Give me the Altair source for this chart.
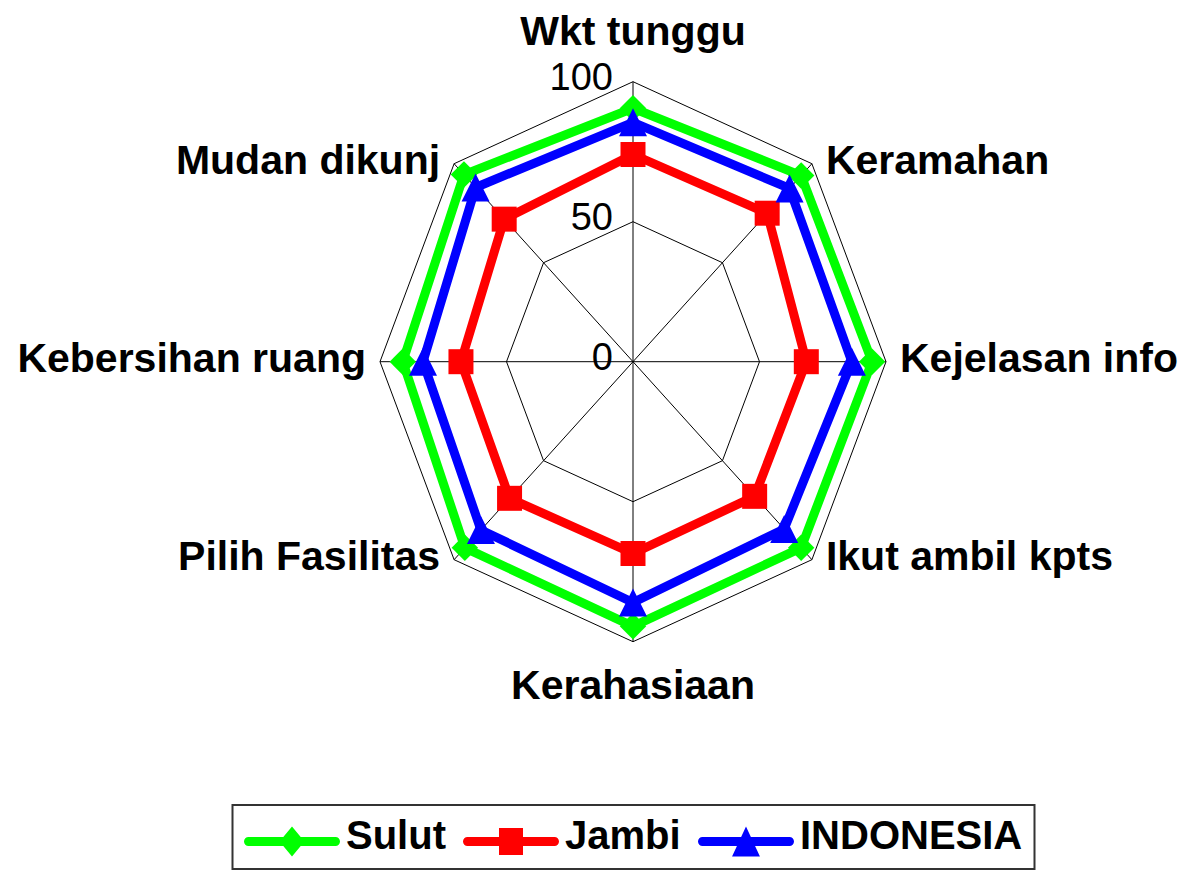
import altair as alt
import pandas as pd

# ---------------- data ----------------
categories = ["Wkt tunggu", "Keramahan", "Kejelasan info", "Ikut ambil kpts",
              "Kerahasiaan", "Pilih Fasilitas", "Kebersihan ruang", "Mudan dikunj"]
series_names = ["Sulut", "Jambi", "INDONESIA"]
sulut = [90.5, 94, 94.5, 94, 94.5, 94, 91, 94.5]
jambi = [74, 75, 68.5, 68, 68.5, 69, 68, 72]
indonesia = [85.5, 87.5, 86.5, 84.5, 86, 85, 83, 88]
series_colors = ["#00FF00", "#FF0000", "#0000FF"]
ring_levels = [50, 100]
tick_levels = [0, 50, 100]

# ---------------- layout constants ----------------
N = len(categories)
W, H = 1173, 865
CX, CY = 625, 353.7          # pixel position of the centre inside the view
KX, KY = 2.53, 2.8           # pixels per unit horizontally / vertically
FONT = "Liberation Sans"

x_scale = alt.Scale(domain=[-CX / KX, (W - CX) / KX], nice=False, zero=False)
y_scale = alt.Scale(domain=[-(H - CY) / KY, CY / KY], nice=False, zero=False)
color_scale = alt.Scale(domain=series_names, range=series_colors)


def polar(chart, r_field, xname="px", yname="py"):
    return (chart
            .transform_calculate(ang=f"datum.idx * 2 * PI / {N}")
            .transform_calculate(**{xname: f"datum.{r_field} * sin(datum.ang)"})
            .transform_calculate(**{yname: f"datum.{r_field} * cos(datum.ang)"}))


X = alt.X("px:Q", scale=x_scale, axis=None)
Y = alt.Y("py:Q", scale=y_scale, axis=None)

# ---------------- tables ----------------
series_rows = []
for name, vals in zip(series_names, [sulut, jambi, indonesia]):
    for i in range(N + 1):
        series_rows.append({"series": name, "idx": i, "value": vals[i % N]})
series_df = pd.DataFrame(series_rows)

grid_df = pd.DataFrame([{"ring": r, "idx": i} for r in ring_levels for i in range(N + 1)])
spoke_df = pd.DataFrame({"idx": list(range(N)), "outer": [max(ring_levels)] * N,
                         "inner": [0] * N})
tick_df = pd.DataFrame({"idx": [0] * len(tick_levels), "level": tick_levels,
                        "label": [str(t) for t in tick_levels]})
label_df = pd.DataFrame({"idx": list(range(N)), "label": categories,
                         "r": [max(ring_levels)] * N})

# ---------------- grid ----------------
rings = polar(alt.Chart(grid_df), "ring").mark_line(
    color="black", strokeWidth=1).encode(x=X, y=Y, detail="ring:N", order="idx:Q")

spokes = polar(polar(alt.Chart(spoke_df), "outer"), "inner", "qx", "qy").mark_rule(
    color="black", strokeWidth=1).encode(
    x=alt.X("qx:Q", scale=x_scale, axis=None), y=alt.Y("qy:Q", scale=y_scale, axis=None),
    x2="px:Q", y2="py:Q")

ticks = polar(alt.Chart(tick_df), "level").mark_text(
    align="right", baseline="middle", dx=-20, dy=-3, font=FONT, fontSize=38,
    color="black").encode(x=X, y=Y, text="label:N")

# ---------------- series ----------------
marker_shapes = ["diamond", "square", "M0,-1L1,1L-1,1Z"]
marker_sizes = [700, 625, 784]
series_layers = []
for name, col, shp, sz in zip(series_names, series_colors, marker_shapes, marker_sizes):
    base = polar(alt.Chart(series_df).transform_filter(f"datum.series == '{name}'"), "value")
    series_layers.append(
        base.mark_line(strokeWidth=9, strokeJoin="round", strokeCap="round", color=col)
        .encode(x=X, y=Y, order="idx:Q"))
    series_layers.append(
        base.transform_filter(f"datum.idx < {N}")
        .mark_point(shape=shp, size=sz, filled=True, opacity=1, color=col, strokeWidth=0)
        .encode(x=X, y=Y))

# ---------------- legend (library legend, custom symbols) ----------------
SYM = 30.0
line_path = ("M-2.9,0.0L2.9,0.0A0.3,0.3 0 0 1 2.9,0.6L-2.9,0.6"
             "A0.3,0.3 0 0 1 -2.9,0.0Z")
legend_paths = [
    line_path + " M0,-0.7L0.83,0.3L0,1.3L-0.83,0.3Z",
    line_path + " M-0.8,-0.6L0.8,-0.6L0.8,1.2L-0.8,1.2Z",
    line_path + " M0,-0.7L0.93,1.3L-0.93,1.3Z",
]
legend = alt.Legend(
    title=None, orient="none", legendX=224.5, legendY=797, direction="horizontal",
    columns=3, symbolSize=SYM * SYM, symbolStrokeWidth=0, symbolOffset=27.5,
    labelOffset=34, labelFont=FONT, labelFontSize=40, labelFontWeight="bold",
    labelColor="black", labelLimit=600, columnPadding=16, padding=12,
    strokeColor="#333333", fillColor="white", symbolOpacity=1)

legend_layer = polar(alt.Chart(series_df).transform_filter("datum.idx == 0"), "value").mark_point(
    filled=True, opacity=0, size=SYM * SYM).encode(
    x=X, y=Y,
    color=alt.Color("series:N", scale=color_scale, legend=legend),
    shape=alt.Shape("series:N", scale=alt.Scale(domain=series_names, range=legend_paths),
                    legend=legend))

# ---------------- category labels ----------------
half = N // 2
lab = polar(alt.Chart(label_df), "r")
lab_top = lab.transform_filter("datum.idx == 0").mark_text(
    align="center", baseline="alphabetic", dy=-37, font=FONT, fontSize=41,
    fontWeight="bold", color="black").encode(x=X, y=Y, text="label:N")
lab_bottom = lab.transform_filter(f"datum.idx == {half}").mark_text(
    align="center", baseline="alphabetic", dy=57, font=FONT, fontSize=41,
    fontWeight="bold", color="black").encode(x=X, y=Y, text="label:N")
lab_right = lab.transform_filter(f"datum.idx > 0 && datum.idx < {half}").mark_text(
    align="left", baseline="middle", dx=14, dy=-2, font=FONT, fontSize=41,
    fontWeight="bold", color="black").encode(x=X, y=Y, text="label:N")
lab_left = lab.transform_filter(f"datum.idx > {half}").mark_text(
    align="right", baseline="middle", dx=-14, dy=-2, font=FONT, fontSize=41,
    fontWeight="bold", color="black").encode(x=X, y=Y, text="label:N")

chart = alt.layer(
    rings, spokes, ticks, legend_layer, *series_layers,
    lab_top, lab_bottom, lab_right, lab_left
).properties(width=W, height=H, padding=0, background="white").configure_view(
    stroke=None).configure_legend(strokeWidth=2)

chart.save("out.html", embed_options={"renderer": "svg", "actions": False})
